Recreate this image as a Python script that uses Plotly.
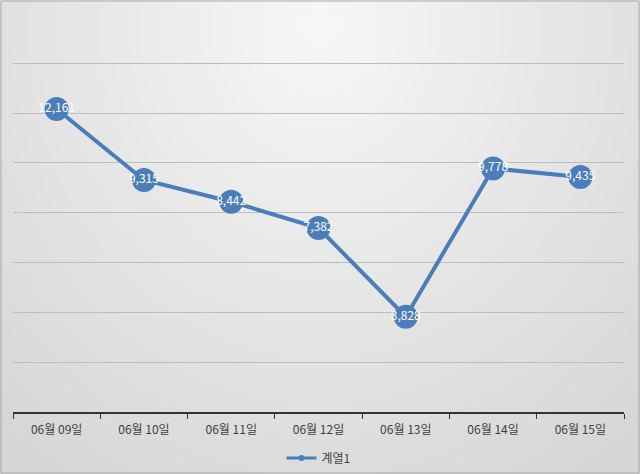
import base64, struct, zlib
import plotly.graph_objects as go

categories = ["06월 09일", "06월 10일", "06월 11일", "06월 12일", "06월 13일", "06월 14일", "06월 15일"]
values = [12161, 9315, 8442, 7382, 3828, 9778, 9435]
labels = [f"{v:,}" for v in values]
series_name = "계열1"

blue = "#4a7ebb"
font = "Noto Sans CJK KR, Malgun Gothic, sans-serif"

W, H = 640, 474
ML, MR, MT, MB = 13, 16, 62, 62
PW, PH = W - ML - MR, H - MT - MB


def gradient_png(w=160, h=120):
    rows = []
    for j in range(h):
        row = bytearray([0])
        for i in range(w):
            dx = (i / (w - 1) - 0.5) / 0.75
            dy = (j / (h - 1) - 0.05) / 1.15
            d = min(1.0, (dx * dx + dy * dy) ** 0.5)
            c = int(round(247 - (247 - 214) * d))
            row += bytes([c, c, c])
        rows.append(bytes(row))
    raw = b"".join(rows)

    def chunk(t, d):
        return struct.pack(">I", len(d)) + t + d + struct.pack(">I", zlib.crc32(t + d) & 0xffffffff)

    png = b"\x89PNG\r\n\x1a\n" + chunk(b"IHDR", struct.pack(">IIBBBBB", w, h, 8, 2, 0, 0, 0))
    png += chunk(b"IDAT", zlib.compress(raw, 9)) + chunk(b"IEND", b"")
    return "data:image/png;base64," + base64.b64encode(png).decode()


fig = go.Figure()
fig.add_trace(go.Scatter(
    x=categories, y=values, name=series_name,
    mode="lines+markers+text",
    line=dict(color=blue, width=4),
    marker=dict(color=blue, size=24, symbol="circle"),
    text=labels, textposition="middle center",
    textfont=dict(color="white", size=12, family=font),
    showlegend=False,
))
# legend-only entry with a small marker, like the reference legend
fig.add_trace(go.Scatter(
    x=[None], y=[None], name=series_name, mode="lines+markers",
    line=dict(color=blue, width=3), marker=dict(color=blue, size=6),
    showlegend=True,
))

fig.update_layout(
    width=W, height=H,
    margin=dict(l=ML, r=MR, t=MT, b=MB, autoexpand=False),
    paper_bgcolor="#e3e3e3",
    plot_bgcolor="rgba(0,0,0,0)",
    font=dict(family=font, color="#404040", size=12),
    legend=dict(orientation="h", x=0.5, xanchor="center", y=-0.09, yanchor="top",
                bgcolor="rgba(0,0,0,0)", font=dict(size=12, color="#404040")),
    xaxis=dict(
        type="category", range=[-0.5, 6.5],
        showgrid=False, showline=True, linecolor="#333333", linewidth=1.5,
        ticks="outside", ticklen=5, tickcolor="#333333", tickson="boundaries",
        tickfont=dict(size=12, color="#404040"), ticklabelstandoff=6,
    ),
    yaxis=dict(
        range=[0, 14050], tickvals=[2000, 4000, 6000, 8000, 10000, 12000, 14000],
        showticklabels=False,
        showgrid=True, gridcolor="#bdbdbd", gridwidth=1,
        zeroline=False, showline=False, ticks="",
    ),
    images=[dict(source=gradient_png(), xref="paper", yref="paper",
                 x=-ML / PW, y=1 + MT / PH, sizex=W / PW, sizey=H / PH,
                 xanchor="left", yanchor="top", sizing="stretch", layer="below")],
    shapes=[dict(type="rect", xref="paper", yref="paper",
                 x0=(-ML + 1) / PW, x1=1 + (MR - 1) / PW, y0=-(MB - 1) / PH, y1=1 + (MT - 1) / PH,
                 line=dict(color="#a8a8a8", width=1), fillcolor="rgba(0,0,0,0)", layer="above")],
)

fig.write_html("out.html", config={"displayModeBar": False},
               post_script="document.body.style.margin='0';")
